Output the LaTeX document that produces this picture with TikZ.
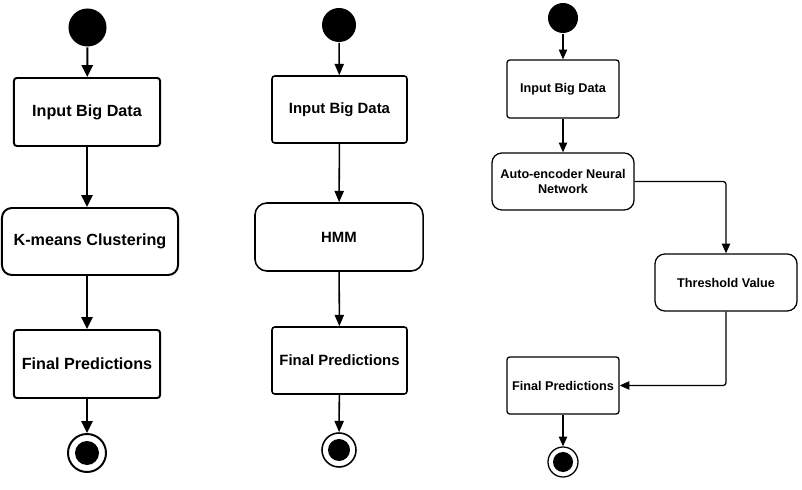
\documentclass[tikz,border=0pt]{standalone}
\usepackage{fontspec}
\setmainfont{Liberation Sans}
\usetikzlibrary{arrows.meta}
\tikzset{
  box/.style={draw, rounded corners=2pt, align=center, inner sep=2pt, font=\bfseries},
  roundbox/.style={box, rounded corners=8pt},
  startnode/.style={circle, fill=black, inner sep=0pt},
  endnode/.style={circle, draw, inner sep=0pt,
    path picture={\fill (path picture bounding box.center) circle (#1);}},
  flow/.style={-{Triangle[length=8.5pt,width=8pt]}}
}
\begin{document}
\begin{tikzpicture}[x=0.025cm, y=-0.025cm]
\useasboundingbox (0,0) rectangle (802,490);
% K-means
\begin{scope}[line width=1.4pt, box/.append style={font=\bfseries\fontsize{11.5}{13.5}\selectfont}]
    \node[startnode, minimum size=0.95cm] (s1) at (87.5,27.5) {};
    \node[box, minimum width=3.65cm, minimum height=1.7cm] (in1) at (87,112) {Input Big Data};
    \node[roundbox, rounded corners=7pt, minimum width=4.4cm, minimum height=1.675cm] (km) at (90,241.5) {K-means Clustering};
    \node[box, minimum width=3.65cm, minimum height=1.7cm] (fp1) at (87,364) {Final Predictions};
    \node[endnode=0.3cm, minimum size=0.95cm] (e1) at (87,453) {};
    \draw[flow] (s1) -- (in1);
    \draw[flow] (in1) -- (km.north -| in1);
    \draw[flow] (km.south -| in1) -- (fp1);
    \draw[flow] (fp1) -- (e1);
\end{scope}
% HMM
\begin{scope}[line width=1.1pt, box/.append style={font=\bfseries\fontsize{10.6}{12.5}\selectfont},
    flow/.style={-{Triangle[length=8pt,width=6.5pt]}}]
    \node[startnode, minimum size=0.85cm] (s2) at (339,25) {};
    \node[box, minimum width=3.375cm, minimum height=1.675cm] (in2) at (339.5,109.5) {Input Big Data};
    \node[roundbox, rounded corners=8.5pt, minimum width=4.2cm, minimum height=1.7cm] (hmm) at (339,237) {HMM};
    \node[box, minimum width=3.375cm, minimum height=1.675cm] (fp2) at (339.5,360.5) {Final Predictions};
    \node[endnode=0.275cm, minimum size=0.85cm] (e2) at (339,450) {};
    \draw[flow] (s2) -- (in2);
    \draw[flow] (in2) -- (hmm);
    \draw[flow] (hmm) -- (fp2);
    \draw[flow] (fp2) -- (e2);
\end{scope}
% Auto-encoder
\begin{scope}[line width=0.9pt, box/.append style={font=\bfseries\fontsize{9}{10.7}\selectfont},
    flow/.style={-{Triangle[length=7pt,width=6pt]}}]
    \node[startnode, minimum size=0.75cm] (s3) at (563,18) {};
    \node[box, minimum width=2.8cm, minimum height=1.45cm] (in3) at (563,89) {Input Big Data};
    \node[roundbox, rounded corners=7pt, minimum width=3.55cm, minimum height=1.425cm] (ae) at (563,181.5) {Auto-encoder Neural\\Network};
    \node[roundbox, rounded corners=7pt, minimum width=3.55cm, minimum height=1.425cm] (th) at (726,282.5) {Threshold Value};
    \node[box, minimum width=2.8cm, minimum height=1.425cm] (fp3) at (563,385.5) {Final Predictions};
    \node[endnode=0.25cm, minimum size=0.75cm] (e3) at (563,462) {};
    \draw[flow] (s3) -- (in3);
    \draw[flow] (in3) -- (ae);
    \draw[flow, rounded corners=2pt] (ae.east) -| (th.north);
    \draw[flow, rounded corners=2pt] (th.south) |- (fp3.east);
    \draw[flow] (fp3) -- (e3);
\end{scope}
\end{tikzpicture}
\end{document}
